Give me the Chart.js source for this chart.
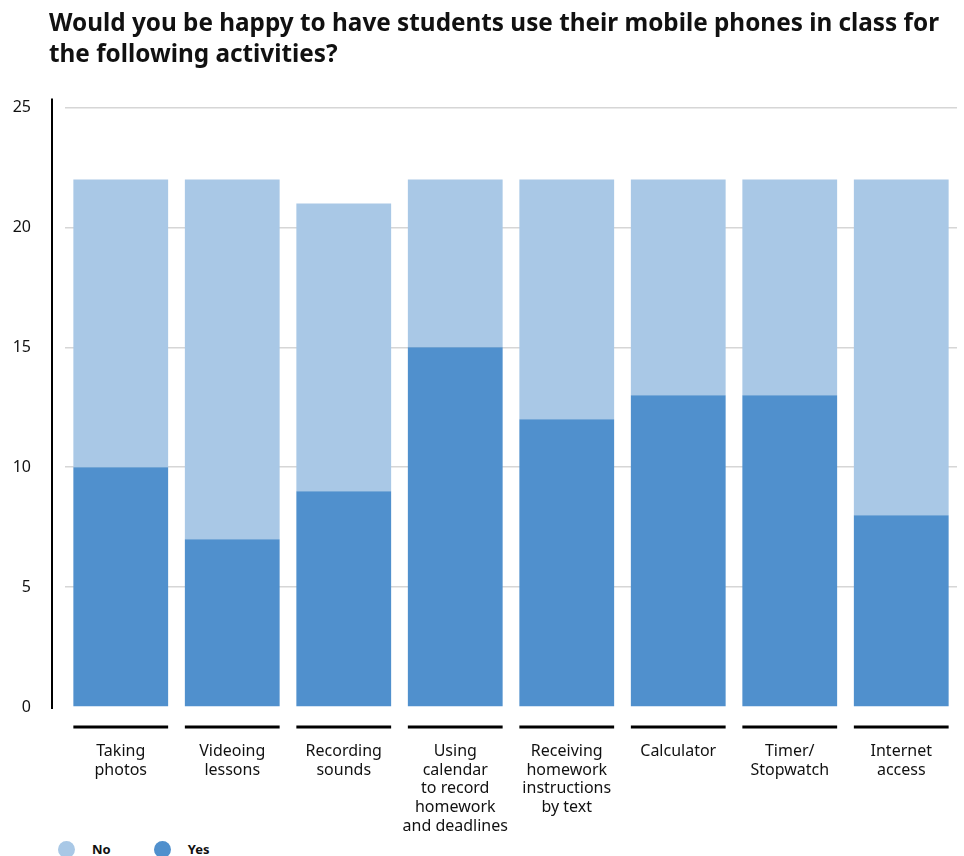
<!DOCTYPE html>
<html>
<head>
<meta charset="utf-8">
<script src="https://cdn.jsdelivr.net/npm/chart.js@4.4.0/dist/chart.umd.min.js"></script>
<style>
  body { margin: 0; background: #fff; font-family: "Noto Sans", sans-serif; color: #111; }
  #wrap { position: relative; width: 964px; height: 856px; overflow: hidden; }
  #title { position: absolute; left: 49px; top: 6px; width: 915px; margin: 0;
           font-size: 24.3px; font-weight: bold; line-height: 31px; white-space: nowrap; z-index: 1; }
  #box { position: absolute; left: 0; top: 64px; width: 964px; height: 772px; }
  #legend { position: absolute; left: 58px; top: 840px; display: flex; align-items: center;
            font-size: 13px; font-weight: bold; }
  #legend span.dot { display: inline-block; width: 17px; height: 17px; border-radius: 50%; margin-right: 17px; }
  #legend span.item { display: flex; align-items: center; margin-right: 43px; }
</style>
</head>
<body>
<div id="wrap">
  <h1 id="title">Would you be happy to have students use their mobile phones in class for<br>the following activities?</h1>
  <div id="box"><canvas id="chart"></canvas></div>
  <div id="legend"></div>
</div>
<script>
const activities = [
  ['Taking', 'photos'],
  ['Videoing', 'lessons'],
  ['Recording', 'sounds'],
  ['Using', 'calendar', 'to record', 'homework', 'and deadlines'],
  ['Receiving', 'homework', 'instructions', 'by text'],
  ['Calculator'],
  ['Timer/', 'Stopwatch'],
  ['Internet', 'access']
];
const yesCounts = [10, 7, 9, 15, 12, 13, 13, 8];
const noCounts = [12, 15, 12, 7, 10, 9, 9, 14];
const yTicks = [0, 5, 10, 15, 20, 25];

const yesColor = '#5090cd';
const noColor = '#a9c8e6';

// legend lists "No" before "Yes"
const legendEl = document.getElementById('legend');
[['No', noColor], ['Yes', yesColor]].forEach(([name, color]) => {
  const item = document.createElement('span');
  item.className = 'item';
  item.innerHTML = '<span class="dot" style="background:' + color + '"></span>' + name;
  legendEl.appendChild(item);
});

// black axis line on the left and short baselines under each bar
const axisMarks = {
  id: 'axisMarks',
  afterDatasetsDraw(chart) {
    const { ctx, chartArea } = chart;
    const meta = chart.getDatasetMeta(0);
    ctx.save();
    ctx.strokeStyle = '#000';
    ctx.lineWidth = 3;
    meta.data.forEach(bar => {
      const half = bar.width / 2;
      ctx.beginPath();
      ctx.moveTo(bar.x - half, chartArea.bottom + 20);
      ctx.lineTo(bar.x + half, chartArea.bottom + 20);
      ctx.stroke();
    });
    ctx.lineWidth = 2;
    ctx.beginPath();
    ctx.moveTo(chartArea.left - 13, chartArea.top - 9);
    ctx.lineTo(chartArea.left - 13, chartArea.bottom + 2);
    ctx.stroke();
    ctx.restore();
  }
};

new Chart(document.getElementById('chart'), {
  type: 'bar',
  data: {
    labels: activities,
    datasets: [
      { label: 'Yes', data: yesCounts, backgroundColor: yesColor },
      { label: 'No', data: noCounts, backgroundColor: noColor }
    ]
  },
  options: {
    responsive: true,
    maintainAspectRatio: false,
    animation: false,
    layout: { padding: { top: 11, right: 7, left: 0, bottom: 0 } },
    datasets: { bar: { categoryPercentage: 1, barPercentage: 0.85 } },
    plugins: {
      legend: { display: false },
      tooltip: { enabled: false }
    },
    scales: {
      x: {
        stacked: true,
        grid: { display: false },
        border: { display: false },
        ticks: {
          color: '#111',
          padding: 27,
          maxRotation: 0,
          autoSkip: false,
          font: { family: 'Noto Sans', size: 16, lineHeight: 1.17 }
        },
        afterFit: scale => { scale.height = 129; }
      },
      y: {
        stacked: true,
        min: 0,
        max: 25,
        afterBuildTicks: scale => { scale.ticks = yTicks.map(v => ({ value: v })); },
        grid: {
          drawTicks: false,
          color: c => c.tick.value === 0 ? 'rgba(0,0,0,0)' : '#d6d6d6',
          lineWidth: 1.5
        },
        border: { display: false },
        ticks: {
          color: '#111',
          padding: 34,
          font: { family: 'Noto Sans', size: 16 }
        },
        afterFit: scale => { scale.width = 65; }
      }
    }
  },
  plugins: [axisMarks]
});
</script>
</body>
</html>
